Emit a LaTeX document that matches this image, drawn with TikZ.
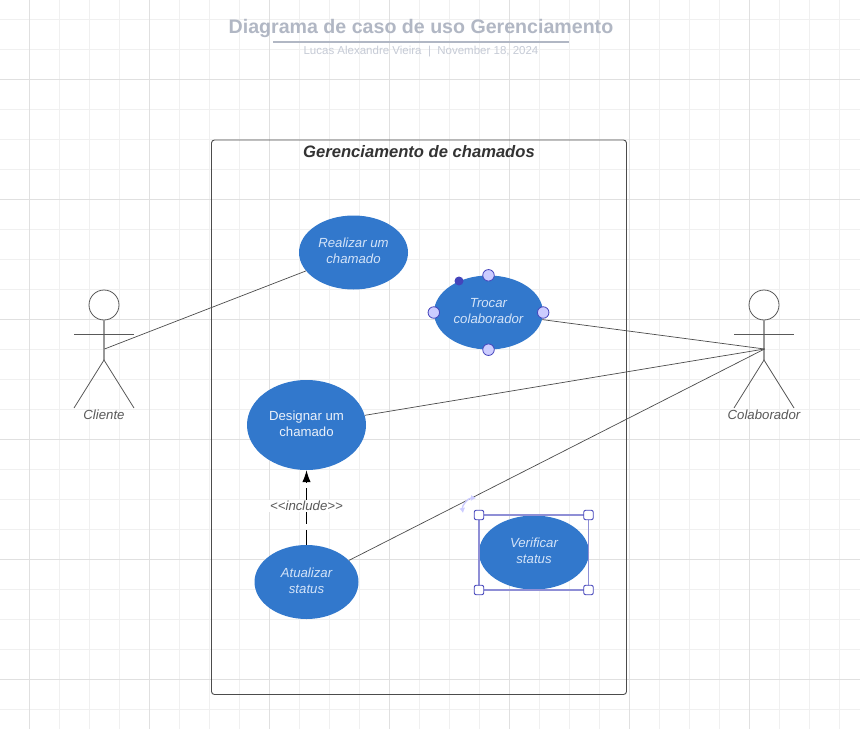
\documentclass[tikz,border=0pt]{standalone}
\usepackage{fontspec}
\setmainfont{Liberation Sans}
\usepackage{xcolor}
\usetikzlibrary{arrows, arrows.meta, positioning, shapes.geometric}
\definecolor{usecase}{HTML}{3278CC}
\definecolor{usetext}{HTML}{D3E3F8}
\definecolor{titlegray}{HTML}{B1B7C4}
\definecolor{subgray}{HTML}{C6CBD6}
\definecolor{selblue}{HTML}{4444BB}
\definecolor{selfill}{HTML}{CCCCFF}
\tikzset{
    >=stealth,
    usecase/.style={ellipse, fill=usecase, text=usetext, inner sep=0pt, align=center, font=\fontsize{13.2}{15.6}\selectfont\itshape},
    actorlabel/.style={text=black!65, font=\fontsize{13.2}{16}\selectfont\itshape},
    stick/.style={draw=black!65, line width=0.8pt},
    link/.style={draw=black!70, line width=0.7pt},
    handle/.style={circle, draw=selblue, fill=selfill, minimum size=11.5pt, inner sep=0pt, line width=0.8pt},
    corner/.style={rectangle, rounded corners=2pt, draw=selblue, fill=white, minimum size=9.5pt, inner sep=0pt, line width=0.9pt},
}
\begin{document}
\begin{tikzpicture}[x=1pt, y=-1pt]
    \useasboundingbox (0,0) rectangle (860,729);
    \fill[white] (0,0) rectangle (860,729);

    % grid
    \foreach \x in {29.5,59.5,...,859.5}
        \draw[black!6, line width=0.9pt] (\x,0) -- (\x,729);
    \foreach \y in {19.5,49.5,...,729.5}
        \draw[black!6, line width=0.9pt] (0,\y) -- (860,\y);
    \foreach \x in {29.5,149.5,...,859.5}
        \draw[black!12, line width=0.9pt] (\x,0) -- (\x,729);
    \foreach \y in {79.5,199.5,...,729.5}
        \draw[black!12, line width=0.9pt] (0,\y) -- (860,\y);

    % title
    \node[text=titlegray, font=\fontsize{19.6}{24}\selectfont\bfseries] (title) at (421,28.5) {Diagrama de caso de uso Gerenciamento};
    \draw[titlegray, line width=1.2pt] (273,42) -- (569,42);
    \node[text=subgray, font=\fontsize{11.5}{14}\selectfont] (sub) at (421,52) {Lucas Alexandre Vieira\ \ |\ \ November 18, 2024};

    % system box
    \draw[black!70, line width=0.9pt, rounded corners=3pt] (211.5,140) rectangle (626.5,694.5);
    \node[text=black!80, font=\fontsize{16.6}{20}\selectfont\bfseries\itshape] (box) at (419,151.5) {Gerenciamento de chamados};

    % use cases
    \node[usecase, minimum width=109pt, minimum height=74pt] (realizar) at (353.5,252.5) {Realizar um\\chamado\rule[-3pt]{0pt}{3pt}};
    \node[usecase, minimum width=109pt, minimum height=74pt] (trocar) at (488.5,312.5) {Trocar\\colaborador\rule[-3pt]{0pt}{3pt}};
    \node[usecase, minimum width=119pt, minimum height=90pt, font=\fontsize{13.2}{15.6}\selectfont, text=white!90!usecase] (designar) at (306.5,425) {Designar um\\chamado\rule[-3pt]{0pt}{3pt}};
    \node[usecase, minimum width=104pt, minimum height=74pt] (atualizar) at (306.5,582) {Atualizar\\status\rule[-3pt]{0pt}{3pt}};
    \node[usecase, minimum width=110pt, minimum height=74pt] (verificar) at (534,552.5) {Verificar\\status\rule[-3pt]{0pt}{3pt}};

    % actors
    \foreach \name/\cx/\txt in {cli/104/Cliente, col/764/Colaborador} {
        \node[circle, stick, minimum size=30pt, inner sep=0pt] (\name head) at (\cx,305) {};
        \coordinate (\name hip) at (\cx,360);
        \coordinate (\name arml) at (\cx-30,334);
        \coordinate (\name armr) at (\cx+30,334);
        \coordinate (\name footl) at (\cx-30,408);
        \coordinate (\name footr) at (\cx+30,408);
        \coordinate (\name hand) at (\cx+0.5,349);
        \draw[stick, draw=black!40, line width=1.2pt] (\name head) -- (\name hip);
        \draw[stick] (\name arml) -- (\name armr);
        \draw[stick] (\name footl) -- (\name hip) -- (\name footr);
        \node[actorlabel] (\name) at (\cx,415) {\txt};
    }

    % connectors
    \path[link]
        (clihand) edge (realizar)
        (colhand) edge (trocar)
                  edge (designar)
                  edge (atualizar);
    \draw[-{Latex[length=12pt, width=8.5pt]}, black, line width=1.1pt, dash pattern=on 15pt off 6pt] (atualizar) -- node[fill=white, inner sep=1.5pt, text=black!65, font=\fontsize{13.2}{16}\selectfont\itshape, pos=0.52] (inc) {<{}<include>{}>} (designar);

    % selection of trocar
    \node[handle] (hn) at (trocar.north) {};
    \node[handle] (hs) at (trocar.south) {};
    \node[handle] (hw) at (trocar.west) {};
    \node[handle] (he) at (trocar.east) {};
    \node[circle, fill=selblue, minimum size=9pt, inner sep=0pt] (hc) at (459,281) {};

    % selection of verificar
    \coordinate (rtl) at (479,515);
    \coordinate (rbr) at (588.5,590);
    \draw[selblue!60, line width=1.2pt] (rtl) rectangle (rbr);
    \node[corner] (c1) at (rtl) {};
    \node[corner] (c2) at (rbr) {};
    \node[corner] (c3) at (rtl |- rbr) {};
    \node[corner] (c4) at (rbr |- rtl) {};

    % rotate handle
    \coordinate (rota) at (463,513);
    \coordinate (rotb) at (476,498);
    \draw[{Latex[length=5pt, width=6pt]}-{Latex[length=5pt, width=6pt]}, selfill, line width=1.4pt] (rota) to[bend left=50] (rotb);
\end{tikzpicture}
\end{document}
